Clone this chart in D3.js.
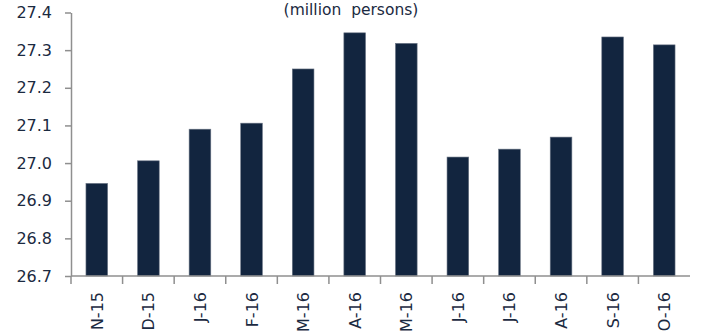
<!DOCTYPE html>
<html><head><meta charset="utf-8">
<script src="https://cdn.jsdelivr.net/npm/d3@7"></script>
<style>body{margin:0;background:#fff}svg{display:block}</style>
</head><body>
<svg id="c" width="701" height="335"></svg>
<script>
const categories = ["N-15","D-15","J-16","F-16","M-16","A-16","M-16","J-16","J-16","A-16","S-16","O-16"];
const values = [26.946,27.006,27.090,27.106,27.250,27.346,27.318,27.016,27.037,27.069,27.335,27.314];
const yTicks = [26.7,26.8,26.9,27.0,27.1,27.2,27.3,27.4];
const title = "(million  persons)";

(function(){
const svg = d3.select("#c");
const mL = 71, mR = 690, mT = 12.5, mB = 276;
const textColor = "#1b2a41", axisColor = "#8f8f8f", barColor = "#12253f";
const font = "DejaVu Sans, sans-serif";

const x = d3.scaleBand().domain(d3.range(categories.length)).range([mL, mR]).paddingInner(0.58).paddingOuter(0.29);
const xt = d3.scaleBand().domain(d3.range(categories.length)).range([mL, mR]);
const y = d3.scaleLinear().domain([26.7, 27.4]).range([mB, mT]);

svg.append("g").selectAll("rect").data(values).join("rect")
  .attr("x", (d,i)=>x(i)).attr("width", x.bandwidth())
  .attr("y", d=>y(d)).attr("height", d=>y(26.7)-y(d))
  .attr("fill", barColor).attr("stroke","#6b7585").attr("stroke-width",0.6);

const ya = svg.append("g").attr("transform",`translate(${mL},0)`)
  .call(d3.axisLeft(y).tickValues(yTicks).tickFormat(d3.format(".1f")).tickSize(6).tickSizeOuter(0).tickPadding(13));
ya.select(".domain").attr("stroke",axisColor).attr("stroke-width",1.5);
ya.selectAll(".tick line").attr("stroke",axisColor).attr("stroke-width",1.5);
ya.selectAll("text").attr("fill",textColor).style("font-family",font).style("font-size","16px");

const xa = svg.append("g").attr("transform",`translate(0,${mB})`);
xa.append("line").attr("x1",mL).attr("x2",mR).attr("stroke",axisColor).attr("stroke-width",1.5);
xa.selectAll("line.t").data(d3.range(categories.length)).join("line").attr("class","t")
  .attr("x1",i=>xt(i)).attr("x2",i=>xt(i))
  .attr("y1",0).attr("y2",8).attr("stroke",axisColor).attr("stroke-width",1.5);
xa.selectAll("text").data(categories).join("text")
  .attr("transform",(d,i)=>`translate(${xt(i)+xt.bandwidth()/2+6},16) rotate(-90)`)
  .attr("text-anchor","end").attr("fill",textColor)
  .style("font-family",font).style("font-size","16px").text(d=>d);

svg.append("text").attr("x",351).attr("y",15).attr("text-anchor","middle")
  .attr("fill",textColor).style("font-family",font).style("font-size","15.5px")
  .style("white-space","pre").text(title);
})();
</script>
</body></html>
